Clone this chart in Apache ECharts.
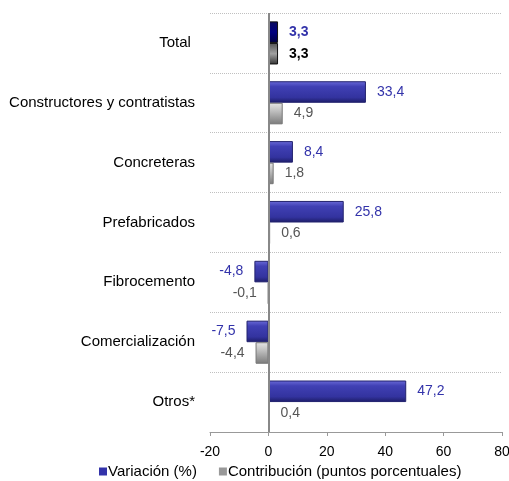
<!DOCTYPE html>
<html>
<head>
<meta charset="utf-8">
<script src="https://cdn.jsdelivr.net/npm/echarts@6/dist/echarts.min.js"></script>
<style>
  html, body { margin: 0; padding: 0; background: #fff; }
  #myChart { width: 509px; height: 481px; }
</style>
</head>
<body>
<div id="myChart"></div>
<script>
var categories = ['Total ', 'Constructores y contratistas', 'Concreteras', 'Prefabricados', 'Fibrocemento', 'Comercialización', 'Otros*'];
var variacion = [3.3, 33.4, 8.4, 25.8, -4.8, -7.5, 47.2];
var contribucion = [3.3, 4.9, 1.8, 0.6, -0.1, -4.4, 0.4];
var xTicks = [-20, 0, 20, 40, 60, 80];

function grad(stops) {
  return new echarts.graphic.LinearGradient(0, 0, 0, 1, stops.map(function (s) {
    return { offset: s[0], color: s[1] };
  }));
}

var blueFill = grad([[0, '#6a6ad8'], [0.25, '#4040b4'], [0.75, '#33339f'], [1, '#1c1c66']]);
var blueTotal = grad([[0, '#0a0a5c'], [0.5, '#000080'], [1, '#000040']]);
var greyFill = grad([[0, '#e6e6e6'], [0.4, '#bdbdbd'], [1, '#7a7a7a']]);
var greyTotal = grad([[0, '#555'], [0.5, '#a0a0a0'], [1, '#333']]);

function fmt(v) {
  return String(v.toFixed(1)).replace('.', ',');
}

function buildData(values, normalFill, totalFill, labelColor, totalLabelColor) {
  return values.map(function (v, i) {
    var isTotal = i === 0;
    return {
      value: v,
      itemStyle: {
        color: isTotal ? totalFill : normalFill,
        borderColor: isTotal ? '#111' : (normalFill === blueFill ? '#22226e' : '#777'),
        borderWidth: 1
      },
      label: {
        position: v < 0 ? 'left' : 'right',
        color: isTotal ? totalLabelColor : labelColor,
        fontWeight: isTotal ? 'bold' : 'normal'
      }
    };
  });
}

var myChart = echarts.init(document.getElementById('myChart'));
myChart.setOption({
  animation: false,
  textStyle: { fontFamily: 'Liberation Sans, Arial, sans-serif' },
  legend: {
    top: 459,
    left: 94,
    icon: 'rect',
    itemWidth: 8,
    itemHeight: 8,
    itemGap: 22,
    textStyle: { fontSize: 15, color: '#000', padding: [0, 0, 0, -4] },
    data: [
      { name: 'Variación (%)', itemStyle: { color: '#3333aa' } },
      { name: 'Contribución (puntos porcentuales)', itemStyle: { color: '#999' } }
    ]
  },
  grid: { left: 210, right: 7, top: 13, bottom: 49, outerBoundsMode: 'none' },
  xAxis: {
    type: 'value',
    min: -20,
    max: 80,
    interval: 20,
    axisLine: { show: true, onZero: false, lineStyle: { color: '#999', width: 1 } },
    axisTick: { show: true, length: 4, lineStyle: { color: '#999' } },
    axisLabel: {
      color: '#000', fontSize: 14, margin: 13,
      formatter: function (v) { return xTicks.indexOf(v) >= 0 ? String(v) : ''; }
    },
    splitLine: { show: false }
  },
  yAxis: {
    type: 'category',
    inverse: true,
    data: categories,
    axisLine: { show: false },
    axisTick: { show: false },
    axisLabel: { color: '#000', fontSize: 15, margin: 15 },
    splitLine: { show: true, lineStyle: { color: '#c0c0c0', type: 'dotted', width: 1 } }
  },
  series: [
    {
      name: 'Variación (%)',
      type: 'bar',
      barGap: '0%',
      barCategoryGap: '28%',
      label: { show: true, fontSize: 14, distance: 11, formatter: function (p) { return fmt(p.value); } },
      data: buildData(variacion, blueFill, blueTotal, '#3333aa', '#3333aa'),
      markLine: {
        silent: true,
        symbol: 'none',
        label: { show: false },
        lineStyle: { color: '#888', type: 'solid', width: 2 },
        data: [{ xAxis: 0 }]
      }
    },
    {
      name: 'Contribución (puntos porcentuales)',
      type: 'bar',
      label: { show: true, fontSize: 14, distance: 11, formatter: function (p) { return fmt(p.value); } },
      data: buildData(contribucion, greyFill, greyTotal, '#555', '#000')
    }
  ]
});
</script>
</body>
</html>
